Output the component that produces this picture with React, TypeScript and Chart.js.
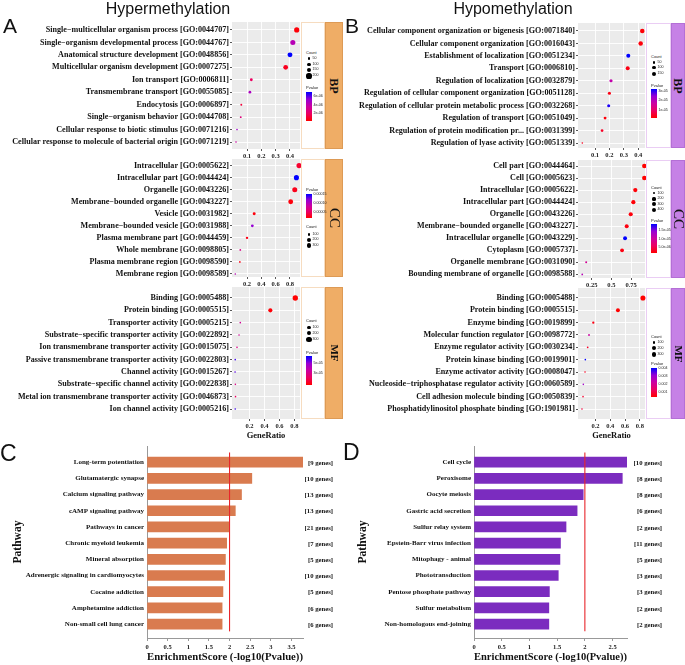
import React, { useEffect, useRef } from 'react';
import { Chart, registerables } from 'chart.js';
Chart.register(...registerables);

const SERIF = '"Liberation Serif", "Times New Roman", serif';
const SANS = '"Liberation Sans", Arial, sans-serif';

// ---------------- Panel A : Hypermethylation ----------------
const hyperBPTerms = [
  'Single−multicellular organism process [GO:0044707]',
  'Single−organism developmental process [GO:0044767]',
  'Anatomical structure development [GO:0048856]',
  'Multicellular organism development [GO:0007275]',
  'Ion transport [GO:0006811]',
  'Transmembrane transport [GO:0055085]',
  'Endocytosis [GO:0006897]',
  'Single−organism behavior [GO:0044708]',
  'Cellular response to biotic stimulus [GO:0071216]',
  'Cellular response to molecule of bacterial origin [GO:0071219]',
];
const hyperBPRatio = [0.447, 0.42, 0.4, 0.37, 0.13, 0.12, 0.06, 0.056, 0.03, 0.023];
const hyperBPCount = [210, 198, 188, 175, 62, 57, 29, 27, 14, 11];
const hyperBPPvalue = [4.4e-7, 4.5e-6, 7.3e-6, 8.6e-7, 2.05e-6, 4.85e-6, 1.35e-6, 2.75e-6, 5.2e-6, 3.8e-6];
const hyperBPPRange = [3e-7, 7.3e-6];
const hyperBPCountLegend = [50, 100, 150, 200];
const hyperBPPLegend = [6e-6, 4e-6, 2e-6];
const hyperBPPLegendText = ['6e-06', '4e-06', '2e-06'];
const hyperBPTicks = [0.1, 0.2, 0.3, 0.4];
const hyperBPTickLabels = ['0.1', '0.2', '0.3', '0.4'];

const hyperCCTerms = [
  'Intracellular [GO:0005622]',
  'Intracellular part [GO:0044424]',
  'Organelle [GO:0043226]',
  'Membrane−bounded organelle [GO:0043227]',
  'Vesicle [GO:0031982]',
  'Membrane−bounded vesicle [GO:0031988]',
  'Plasma membrane part [GO:0044459]',
  'Whole membrane [GO:0098805]',
  'Plasma membrane region [GO:0098590]',
  'Membrane region [GO:0098589]',
];
const hyperCCRatio = [0.927, 0.89, 0.867, 0.81, 0.3, 0.274, 0.2, 0.106, 0.1, 0.036];
const hyperCCCount = [330, 318, 309, 289, 107, 98, 71, 38, 36, 13];
const hyperCCPvalue = [3.6e-5, 1.52e-4, 2.9e-5, 2.4e-5, 2.4e-5, 1.19e-4, 2.7e-5, 7.3e-5, 2.7e-5, 9.9e-5];
const hyperCCPRange = [2e-5, 1.52e-4];
const hyperCCCountLegend = [100, 200, 300];
const hyperCCPLegend = [1.5e-4, 1e-4, 5e-5];
const hyperCCPLegendText = ['0.00015', '0.00010', '0.00005'];
const hyperCCTicks = [0.2, 0.4, 0.6, 0.8];
const hyperCCTickLabels = ['0.2', '0.4', '0.6', '0.8'];

const hyperMFTerms = [
  'Binding [GO:0005488]',
  'Protein binding [GO:0005515]',
  'Transporter activity [GO:0005215]',
  'Substrate−specific transporter activity [GO:0022892]',
  'Ion transmembrane transporter activity [GO:0015075]',
  'Passive transmembrane transporter activity [GO:0022803]',
  'Channel activity [GO:0015267]',
  'Substrate−specific channel activity [GO:0022838]',
  'Metal ion transmembrane transporter activity [GO:0046873]',
  'Ion channel activity [GO:0005216]',
];
const hyperMFRatio = [0.812, 0.478, 0.076, 0.059, 0.032, 0.008, 0.006, 0.01, 0.012, 0.008];
const hyperMFCount = [300, 177, 28, 22, 12, 8, 8, 6, 6, 6];
const hyperMFPvalue = [9e-6, 1.01e-5, 3.47e-5, 3.47e-5, 3.18e-5, 6.03e-5, 5.75e-5, 3.18e-5, 2.33e-5, 6.03e-5];
const hyperMFPRange = [9e-6, 6.6e-5];
const hyperMFCountLegend = [100, 200, 300];
const hyperMFPLegend = [5e-5, 3e-5];
const hyperMFPLegendText = ['5e-05', '3e-05'];
const hyperMFTicks = [0.2, 0.4, 0.6, 0.8];
const hyperMFTickLabels = ['0.2', '0.4', '0.6', '0.8'];

// ---------------- Panel B : Hypomethylation ----------------
const hypoBPTerms = [
  'Cellular component organization or bigenesis [GO:0071840]',
  'Cellular component organization [GO:0016043]',
  'Establishment of localization [GO:0051234]',
  'Transport [GO:0006810]',
  'Regulation of localization [GO:0032879]',
  'Regulation of cellular component organization [GO:0051128]',
  'Regulation of cellular protein metabolic process [GO:0032268]',
  'Regulation of transport [GO:0051049]',
  'Regulation of protein modification pr... [GO:0031399]',
  'Regulation of lyase activity [GO:0051339]',
];
const hypoBPRatio = [0.428, 0.417, 0.331, 0.327, 0.211, 0.2, 0.195, 0.17, 0.149, 0.012];
const hypoBPCount = [160, 156, 124, 122, 79, 75, 73, 64, 56, 5];
const hypoBPPvalue = [2.6e-6, 2.9e-6, 3.3e-5, 3.6e-6, 1.9e-5, 3.6e-6, 3.15e-5, 2.9e-6, 5.1e-6, 4.5e-6];
const hypoBPPRange = [2e-6, 3.3e-5];
const hypoBPCountLegend = [50, 100, 150];
const hypoBPPLegend = [3e-5, 2e-5, 1e-5];
const hypoBPPLegendText = ['3e-05', '2e-05', '1e-05'];
const hypoBPTicks = [0.1, 0.2, 0.3, 0.4];
const hypoBPTickLabels = ['0.1', '0.2', '0.3', '0.4'];

const hypoCCTerms = [
  'Cell part [GO:0044464]',
  'Cell [GO:0005623]',
  'Intracellular [GO:0005622]',
  'Intracellular part [GO:0044424]',
  'Organelle [GO:0043226]',
  'Membrane−bounded organelle [GO:0043227]',
  'Intracellular organelle [GO:0043229]',
  'Cytoplasm [GO:0005737]',
  'Organelle membrane [GO:0031090]',
  'Bounding membrane of organelle [GO:0098588]',
];
const hypoCCRatio = [0.918, 0.918, 0.803, 0.778, 0.745, 0.694, 0.673, 0.635, 0.18, 0.13];
const hypoCCCount = [432, 432, 378, 366, 350, 326, 316, 298, 85, 61];
const hypoCCPvalue = [2.2e-6, 2.2e-6, 2.5e-6, 2.5e-6, 2.7e-6, 2.9e-6, 1.9e-5, 2.9e-6, 9.8e-6, 1.23e-5];
const hypoCCPRange = [2.2e-6, 1.9e-5];
const hypoCCCountLegend = [100, 200, 300, 400];
const hypoCCPLegend = [1.5e-5, 1e-5, 5e-6];
const hypoCCPLegendText = ['1.5e-05', '1.0e-05', '5.0e-06'];
const hypoCCTicks = [0.25, 0.5, 0.75];
const hypoCCTickLabels = ['0.25', '0.5', '0.75'];

const hypoMFTerms = [
  'Binding [GO:0005488]',
  'Protein binding [GO:0005515]',
  'Enzyme binding [GO:0019899]',
  'Molecular function regulator [GO:0098772]',
  'Enzyme regulator activity [GO:0030234]',
  'Protein kinase binding [GO:0019901]',
  'Enzyme activator activity [GO:0008047]',
  'Nucleoside−triphosphatase regulator activity [GO:0060589]',
  'Cell adhesion molecule binding [GO:0050839]',
  'Phosphatidylinositol phosphate binding [GO:1901981]',
];
const hypoMFRatio = [0.842, 0.504, 0.171, 0.113, 0.095, 0.063, 0.059, 0.036, 0.032, 0.018];
const hypoMFCount = [330, 197, 67, 44, 37, 25, 23, 14, 13, 7];
const hypoMFPvalue = [5.8e-4, 5.8e-4, 7.6e-4, 2.37e-3, 9.4e-4, 4.16e-3, 8.7e-4, 3.09e-3, 1.01e-3, 1.12e-3];
const hypoMFPRange = [5.8e-4, 4.16e-3];
const hypoMFCountLegend = [100, 200, 300];
const hypoMFPLegend = [0.004, 0.003, 0.002, 0.001];
const hypoMFPLegendText = ['0.004', '0.003', '0.002', '0.001'];
const hypoMFTicks = [0.2, 0.4, 0.6, 0.8];
const hypoMFTickLabels = ['0.2', '0.4', '0.6', '0.8'];

// ---------------- Panel C / D : KEGG ----------------
const hyperPathways = [
  'Long-term potentiation', 'Glutamatergic synapse', 'Calcium signaling pathway', 'cAMP signaling pathway',
  'Pathways in cancer', 'Chronic myeloid leukemia', 'Mineral absorption', 'Adrenergic signaling in cardiomyocytes',
  'Cocaine addiction', 'Amphetamine addiction', 'Non-small cell lung cancer',
];
const hyperScores = [3.78, 2.54, 2.29, 2.14, 1.99, 1.93, 1.9, 1.88, 1.84, 1.82, 1.82];
const hyperGenes = [9, 10, 13, 13, 21, 7, 5, 10, 5, 6, 6];

const hypoPathways = [
  'Cell cycle', 'Peroxisome', 'Oocyte meiosis', 'Gastric acid secretion', 'Sulfur relay system',
  'Epstein-Barr virus infection', 'Mitophagy - animal', 'Phototransduction', 'Pentose phosphate pathway',
  'Sulfur metabolism', 'Non-homologous end-joining',
];
const hypoScores = [2.76, 2.675, 1.97, 1.86, 1.66, 1.56, 1.55, 1.52, 1.36, 1.35, 1.35];
const hypoGenes = [10, 8, 8, 6, 2, 11, 5, 3, 3, 2, 2];

const enrichTicks = [0, 0.5, 1, 1.5, 2, 2.5, 3, 3.5];
const enrichThreshold = 2;

// ---------------- colour helpers ----------------
const RAMP = [[255, 0, 0], [236, 0, 96], [204, 0, 160], [150, 0, 212], [0, 0, 255]];
function rampAt(t: number) {
  const c = Math.max(0, Math.min(1, t)) * (RAMP.length - 1);
  const i = Math.min(Math.floor(c), RAMP.length - 2);
  const f = c - i;
  const a = RAMP[i], b = RAMP[i + 1];
  return `rgb(${Math.round(a[0] + (b[0] - a[0]) * f)},${Math.round(a[1] + (b[1] - a[1]) * f)},${Math.round(a[2] + (b[2] - a[2]) * f)})`;
}
const GRADIENT_CSS = `linear-gradient(to top, ${RAMP.map((c) => `rgb(${c.join(',')})`).join(', ')})`;
const rad = (c: number, k: number) => Math.max(0.8, Math.sqrt(c) * k);

// ---------------- layouts ----------------
const PANEL_A = { x0: 0, plotLeft: 232, plotRight: 300, boxLeft: 301, boxRight: 325, stripRight: 343, stripColor: '#EFAD66', stripBorder: '#DD9A55', boxBorder: '#F6DCC0' };
const PANEL_B = { x0: 340, plotLeft: 578, plotRight: 645, boxLeft: 646, boxRight: 671, stripRight: 685, stripColor: '#C681E6', stripBorder: '#B46FD6', boxBorder: '#EACDF4' };

type Facet = {
  terms: string[]; ratio: number[]; count: number[]; pvalue: number[]; pRange: number[]; sizeK: number;
  xMin: number; xMax: number; xTicks: number[]; xTickLabels: string[];
  top: number; bottom: number; yMin: number; yMax: number; axisH: number;
  strip: string; stripBold: boolean; stripSize: number;
  countLegend: number[]; countTitleY: number; countY: number[];
  pLegend: number[]; pLegendText: string[]; pTitleY: number; gradTop: number; gradBottom: number;
  xTitle?: string;
};

const facetsA: Facet[] = [
  { terms: hyperBPTerms, ratio: hyperBPRatio, count: hyperBPCount, pvalue: hyperBPPvalue, pRange: hyperBPPRange, sizeK: 0.18,
    xMin: -0.005, xMax: 0.47, xTicks: hyperBPTicks, xTickLabels: hyperBPTickLabels,
    top: 22, bottom: 149, yMin: -0.64, yMax: 9.56, axisH: 10, strip: 'BP', stripBold: true, stripSize: 12,
    countLegend: hyperBPCountLegend, countTitleY: 53, countY: [58.3, 64.3, 70, 76],
    pLegend: hyperBPPLegend, pLegendText: hyperBPPLegendText, pTitleY: 88, gradTop: 91.7, gradBottom: 121 },
  { terms: hyperCCTerms, ratio: hyperCCRatio, count: hyperCCCount, pvalue: hyperCCPvalue, pRange: hyperCCPRange, sizeK: 0.143,
    xMin: -0.01, xMax: 0.94, xTicks: hyperCCTicks, xTickLabels: hyperCCTickLabels,
    top: 159, bottom: 277, yMin: -0.55, yMax: 9.25, axisH: 10, strip: 'CC', stripBold: false, stripSize: 15,
    countLegend: hyperCCCountLegend, countTitleY: 226.7, countY: [234.3, 240, 245.3],
    pLegend: hyperCCPLegend, pLegendText: hyperCCPLegendText, pTitleY: 190, gradTop: 194, gradBottom: 218.3 },
  { terms: hyperMFTerms, ratio: hyperMFRatio, count: hyperMFCount, pvalue: hyperMFPvalue, pRange: hyperMFPRange, sizeK: 0.155,
    xMin: -0.035, xMax: 0.875, xTicks: hyperMFTicks, xTickLabels: hyperMFTickLabels,
    top: 287, bottom: 419, yMin: -0.89, yMax: 9.81, axisH: 22, strip: 'MF', stripBold: true, stripSize: 11,
    countLegend: hyperMFCountLegend, countTitleY: 321, countY: [327.3, 333.3, 339.3],
    pLegend: hyperMFPLegend, pLegendText: hyperMFPLegendText, pTitleY: 352.7, gradTop: 355.7, gradBottom: 385, xTitle: 'GeneRatio' },
];

const facetsB: Facet[] = [
  { terms: hypoBPTerms, ratio: hypoBPRatio, count: hypoBPCount, pvalue: hypoBPPvalue, pRange: hypoBPPRange, sizeK: 0.18,
    xMin: -0.018, xMax: 0.447, xTicks: hypoBPTicks, xTickLabels: hypoBPTickLabels,
    top: 23, bottom: 148, yMin: -0.64, yMax: 9.4, axisH: 11, strip: 'BP', stripBold: true, stripSize: 12,
    countLegend: hypoBPCountLegend, countTitleY: 56.7, countY: [62.3, 67.7, 74],
    pLegend: hypoBPPLegend, pLegendText: hypoBPPLegendText, pTitleY: 86, gradTop: 89, gradBottom: 118.3 },
  { terms: hypoCCTerms, ratio: hypoCCRatio, count: hypoCCCount, pvalue: hypoCCPvalue, pRange: hypoCCPRange, sizeK: 0.11,
    xMin: 0.076, xMax: 0.926, xTicks: hypoCCTicks, xTickLabels: hypoCCTickLabels,
    top: 160, bottom: 278, yMin: -0.5, yMax: 9.3, axisH: 10, strip: 'CC', stripBold: false, stripSize: 15,
    countLegend: hypoCCCountLegend, countTitleY: 187.7, countY: [193.3, 199, 204.3, 210],
    pLegend: hypoCCPLegend, pLegendText: hypoCCPLegendText, pTitleY: 220.7, gradTop: 224, gradBottom: 252.7 },
  { terms: hypoMFTerms, ratio: hypoMFRatio, count: hypoMFCount, pvalue: hypoMFPvalue, pRange: hypoMFPRange, sizeK: 0.14,
    xMin: -0.036, xMax: 0.87, xTicks: hypoMFTicks, xTickLabels: hypoMFTickLabels,
    top: 288, bottom: 419, yMin: -0.81, yMax: 9.81, axisH: 22, strip: 'MF', stripBold: true, stripSize: 11,
    countLegend: hypoMFCountLegend, countTitleY: 336.7, countY: [342.3, 348.3, 354.3],
    pLegend: hypoMFPLegend, pLegendText: hypoMFPLegendText, pTitleY: 364.3, gradTop: 367.7, gradBottom: 396.7, xTitle: 'GeneRatio' },
];

const panelBg = {
  id: 'panelBg',
  beforeDraw(chart: any) {
    const { ctx, chartArea } = chart;
    ctx.save();
    ctx.fillStyle = '#EBEBEB';
    ctx.fillRect(chartArea.left, chartArea.top, chartArea.right - chartArea.left, chartArea.bottom - chartArea.top);
    ctx.restore();
  },
};

function DotChart({ panel, f }: { panel: typeof PANEL_A; f: Facet }) {
  const ref = useRef<HTMLCanvasElement>(null);
  const PADT = 8, PADR = 12;
  const canvasTop = f.top - PADT;
  const width = panel.plotRight - panel.x0 + PADR;
  const height = f.bottom + f.axisH - canvasTop;
  useEffect(() => {
    const lo = f.pRange[0], hi = f.pRange[1];
    const chart = new Chart(ref.current as HTMLCanvasElement, {
      type: 'bubble',
      data: {
        datasets: [{
          data: f.ratio.map((v, i) => ({ x: v, y: i, r: rad(f.count[i], f.sizeK) })),
          backgroundColor: f.pvalue.map((p) => rampAt((p - lo) / (hi - lo))),
          borderWidth: 0,
          clip: false,
        } as any],
      },
      options: {
        responsive: false,
        animation: false,
        events: [],
        layout: { padding: { top: PADT, right: PADR, left: 0, bottom: 0 } },
        plugins: { legend: { display: false }, tooltip: { enabled: false } },
        scales: {
          x: {
            type: 'linear', min: f.xMin, max: f.xMax,
            afterBuildTicks: (s: any) => { s.ticks = f.xTicks.map((v) => ({ value: v })); },
            ticks: { autoSkip: false, maxRotation: 0, padding: 1, color: '#222', font: { family: SERIF, weight: 'bold', size: 6.5 },
              callback: (_v: any, i: number) => f.xTickLabels[i] },
            grid: { color: '#FFFFFF', lineWidth: 0.9, tickColor: '#444', tickLength: 2 },
            border: { display: false },
            afterFit: (s: any) => { s.height = f.axisH; },
            title: f.xTitle ? { display: true, text: f.xTitle, color: '#111', font: { family: SERIF, weight: 'bold', size: 8.5 }, padding: { top: 0, bottom: 0 } } : { display: false },
          } as any,
          y: {
            type: 'linear', reverse: true, min: f.yMin, max: f.yMax,
            afterBuildTicks: (s: any) => { s.ticks = f.terms.map((_t, i) => ({ value: i })); },
            ticks: { autoSkip: false, padding: 1, color: '#111', font: { family: SERIF, weight: 'bold', size: 8.1 },
              callback: (v: any) => f.terms[v as number] ?? '' },
            grid: { color: '#FFFFFF', lineWidth: 0.9, tickColor: '#444', tickLength: 2 },
            border: { display: false },
            afterFit: (s: any) => { s.width = panel.plotLeft - panel.x0; },
          } as any,
        },
      },
      plugins: [panelBg],
    });
    return () => chart.destroy();
  }, []);
  return <canvas ref={ref} width={width} height={height} style={{ position: 'absolute', left: panel.x0, top: canvasTop, width, height }} />;
}

function FacetDecor({ panel, f }: { panel: typeof PANEL_A; f: Facet }) {
  const bl = panel.boxLeft;
  const lo = f.pRange[0], hi = f.pRange[1];
  const small = 3.6;
  const txt = (x: number, y: number, s: string, size: number, key: string) => (
    <div key={key} style={{ position: 'absolute', left: x, top: y - size / 2, fontFamily: SANS, fontSize: size, lineHeight: 1, color: '#222', whiteSpace: 'nowrap' }}>{s}</div>
  );
  const stripCx = (panel.boxRight + panel.stripRight) / 2;
  return (
    <>
      <div style={{ position: 'absolute', left: bl, top: f.top, width: panel.boxRight - bl, height: f.bottom - f.top, boxSizing: 'border-box', border: `1px solid ${panel.boxBorder}`, background: '#fff' }} />
      <div style={{ position: 'absolute', left: panel.boxRight, top: f.top, width: panel.stripRight - panel.boxRight, height: f.bottom - f.top, boxSizing: 'border-box', border: `1px solid ${panel.stripBorder}`, background: panel.stripColor }} />
      <div style={{ position: 'absolute', left: stripCx, top: (f.top + f.bottom) / 2, transform: 'translate(-50%, -50%) rotate(90deg)', fontFamily: SERIF, fontWeight: f.stripBold ? 'bold' : 'normal', fontSize: f.stripSize, lineHeight: 1, color: '#111', whiteSpace: 'nowrap' }}>{f.strip}</div>
      {txt(bl + 5, f.countTitleY, 'Count', 4, 'ct')}
      {f.countLegend.map((c, i) => {
        const r = rad(c, f.sizeK);
        return (
          <React.Fragment key={'c' + i}>
            <div style={{ position: 'absolute', left: bl + 8 - r, top: f.countY[i] - r, width: 2 * r, height: 2 * r, borderRadius: '50%', background: '#000' }} />
            {txt(bl + 11.5, f.countY[i], String(c), small, 'cl' + i)}
          </React.Fragment>
        );
      })}
      {txt(bl + 5, f.pTitleY, 'Pvalue', 4, 'pt')}
      <div style={{ position: 'absolute', left: bl + 5, top: f.gradTop, width: 6, height: f.gradBottom - f.gradTop, background: GRADIENT_CSS }} />
      {f.pLegend.map((p, i) => txt(bl + 12.5, f.gradTop + ((hi - p) / (hi - lo)) * (f.gradBottom - f.gradTop), f.pLegendText[i], small, 'pl' + i))}
    </>
  );
}

const thresholdPlugin = {
  id: 'threshold',
  afterDatasetsDraw(chart: any, _a: any, opts: any) {
    const { ctx, scales } = chart;
    const x = scales.x.getPixelForValue(opts.value);
    ctx.save();
    ctx.strokeStyle = '#E8262B';
    ctx.lineWidth = 1.1;
    ctx.beginPath();
    ctx.moveTo(x, scales.y.getPixelForValue(-0.6));
    ctx.lineTo(x, scales.y.getPixelForValue(10.45));
    ctx.stroke();
    ctx.restore();
  },
};

const geneLabelPlugin = {
  id: 'geneLabels',
  afterDraw(chart: any, _a: any, opts: any) {
    const { ctx, scales } = chart;
    ctx.save();
    ctx.font = `bold 6.7px ${SERIF}`;
    ctx.fillStyle = '#111';
    ctx.textAlign = 'right';
    ctx.textBaseline = 'middle';
    opts.genes.forEach((g: number, i: number) => {
      ctx.fillText(`[${g} genes]`, opts.right, scales.y.getPixelForValue(i) + 1);
    });
    ctx.restore();
  },
};

function BarChart({ x0, width, plotLeft, plotRight, pathways, scores, genes, color, xMax, geneRight, titlePad }: any) {
  const ref = useRef<HTMLCanvasElement>(null);
  const canvasTop = 436, PADT = 10, plotBottom = 638, H = 665 - canvasTop;
  useEffect(() => {
    const chart = new Chart(ref.current as HTMLCanvasElement, {
      type: 'bar',
      data: {
        datasets: [{
          data: scores.map((v: number, i: number) => ({ x: v, y: i })),
          backgroundColor: color,
          borderWidth: 0,
          barThickness: 10,
        } as any],
      },
      options: {
        indexAxis: 'y',
        responsive: false,
        animation: false,
        events: [],
        layout: { padding: { top: PADT, right: x0 + width - plotRight, left: 0, bottom: 0 } },
        plugins: {
          legend: { display: false }, tooltip: { enabled: false },
          threshold: { value: enrichThreshold },
          geneLabels: { genes, right: geneRight - x0 },
        } as any,
        scales: {
          x: {
            type: 'linear', min: 0, max: xMax,
            afterBuildTicks: (s: any) => { s.ticks = enrichTicks.filter((v) => v <= xMax).map((v) => ({ value: v })); },
            ticks: { autoSkip: false, maxRotation: 0, padding: 2, color: '#222', font: { family: SERIF, weight: 'bold', size: 6.5 },
              callback: (v: any) => String(v) },
            grid: { display: true, drawOnChartArea: false, drawTicks: true, tickLength: 3, color: '#999', tickColor: '#999' },
            border: { display: true, color: '#999', width: 1 },
            afterFit: (s: any) => { s.height = 665 - plotBottom; },
            title: { display: true, text: 'EnrichmentScore (-log10(Pvalue))', color: '#111', font: { family: SERIF, weight: 'bold', size: 11 }, padding: { top: 0, bottom: 1 } },
          } as any,
          y: {
            type: 'linear', reverse: true, min: -1, max: 10.86, offset: false,
            afterBuildTicks: (s: any) => { s.ticks = pathways.map((_p: string, i: number) => ({ value: i })); },
            ticks: { autoSkip: false, padding: 3, color: '#111', font: { family: SERIF, weight: 'bold', size: 7 },
              callback: (v: any) => pathways[v as number] ?? '' },
            grid: { display: false, drawTicks: false },
            border: { display: true, color: '#999', width: 1 },
            afterFit: (s: any) => { s.width = plotLeft - x0; },
            title: { display: true, text: 'Pathway', color: '#111', font: { family: SERIF, weight: 'bold', size: 11.5 }, padding: { top: titlePad, bottom: 0 } },
          } as any,
        },
      },
      plugins: [thresholdPlugin, geneLabelPlugin],
    });
    return () => chart.destroy();
  }, []);
  return <canvas ref={ref} width={width} height={H} style={{ position: 'absolute', left: x0, top: canvasTop, width, height: H }} />;
}

function Label({ text, left, top, size, family = SANS }: any) {
  return <div style={{ position: 'absolute', left, top, fontFamily: family, fontSize: size, lineHeight: `${size}px`, color: '#111', whiteSpace: 'nowrap' }}>{text}</div>;
}

export default function App() {
  return (
    <div style={{ position: 'fixed', left: 0, top: 0, width: 685, height: 665, background: '#fff', overflow: 'hidden' }}>
      {facetsA.map((f, i) => <DotChart key={'da' + i} panel={PANEL_A} f={f} />)}
      {facetsB.map((f, i) => <DotChart key={'db' + i} panel={PANEL_B} f={f} />)}
      {facetsA.map((f, i) => <FacetDecor key={'fa' + i} panel={PANEL_A} f={f} />)}
      {facetsB.map((f, i) => <FacetDecor key={'fb' + i} panel={PANEL_B} f={f} />)}
      <BarChart x0={0} width={340} plotLeft={147} plotRight={303} pathways={hyperPathways} scores={hyperScores} genes={hyperGenes}
        color="#D97B4F" xMax={3.78} geneRight={333} titlePad={11.6} />
      <BarChart x0={340} width={345} plotLeft={474} plotRight={627} pathways={hypoPathways} scores={hypoScores} genes={hypoGenes}
        color="#7B2CBF" xMax={2.76} geneRight={662} titlePad={16} />
      <div style={{ position: 'absolute', left: 168, top: 0.5, transform: 'translateX(-50%)', fontFamily: SANS, fontSize: 16, lineHeight: '16px', color: '#111', whiteSpace: 'nowrap' }}>Hypermethylation</div>
      <div style={{ position: 'absolute', left: 513, top: 0.5, transform: 'translateX(-50%)', fontFamily: SANS, fontSize: 16, lineHeight: '16px', color: '#111', whiteSpace: 'nowrap' }}>Hypomethylation</div>
      <Label text="A" left={3} top={15} size={21} />
      <Label text="B" left={345} top={15} size={21} />
      <Label text="C" left={0} top={441.5} size={23} />
      <Label text="D" left={343} top={440.5} size={23} />
    </div>
  );
}
